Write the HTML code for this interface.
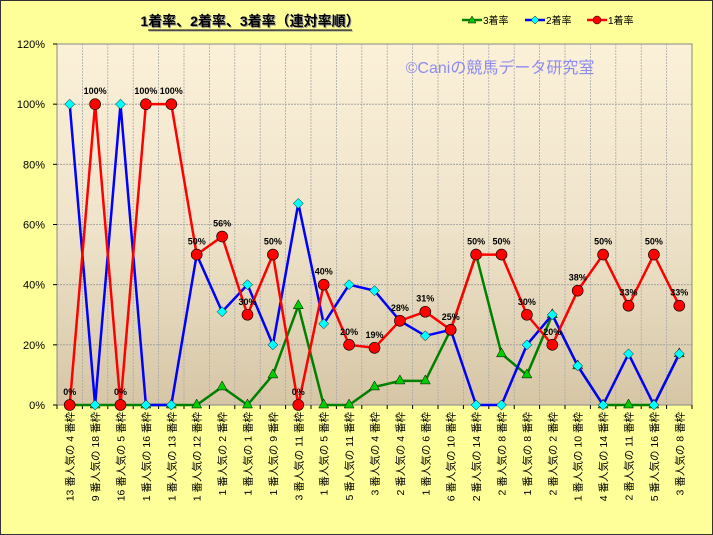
<!DOCTYPE html>
<html><head><meta charset="utf-8"><style>
html,body{margin:0;padding:0;background:#fff;}
svg{display:block;font-family:"Liberation Sans","Noto Sans CJK JP",sans-serif;}
</style></head><body>
<svg id="c" width="713" height="535" viewBox="0 0 713 535" xmlns="http://www.w3.org/2000/svg">
<defs>
<linearGradient id="bg" x1="0" y1="0" x2="0" y2="1">
<stop offset="0" stop-color="#fbf0d8"/><stop offset="0.5" stop-color="#efe4cb"/><stop offset="1" stop-color="#d6c6a6"/>
</linearGradient>
</defs>
<rect x="0.5" y="0.5" width="712" height="534" fill="#ffff99" stroke="#333" stroke-width="1"/>
<rect x="57" y="44" width="635" height="361" fill="url(#bg)" stroke="#888" stroke-width="1"/>
<g id="grid"></g>
<text x="250" y="26" text-anchor="middle" font-size="14" font-weight="bold" fill="#999" transform="translate(1,1)">1着率、2着率、3着率（連対率順）</text>
<text x="250" y="26" text-anchor="middle" font-size="14" font-weight="bold" fill="#000">1着率、2着率、3着率（連対率順）</text>
<line x1="148" y1="30" x2="352" y2="30" stroke="#000" stroke-width="1"/>
<line x1="149" y1="31" x2="353" y2="31" stroke="#999" stroke-width="1"/>
<text x="500" y="73" text-anchor="middle" font-size="16" fill="#8c8cf0">©Caniの競馬データ研究室</text>
<g font-size="10">
<line x1="462" y1="20" x2="482" y2="20" stroke="#008000" stroke-width="2.5"/><polygon points="472,16 476,23 468,23" fill="#00cc00" stroke="#000" stroke-width="0.5"/><text x="483" y="24">3着率</text>
<line x1="525" y1="20" x2="545" y2="20" stroke="#0000ff" stroke-width="2.5"/><polygon points="535,16 539,20 535,24 531,20" fill="#00ffff" stroke="#000" stroke-width="0.5"/><text x="546" y="24">2着率</text>
<line x1="587" y1="20" x2="607" y2="20" stroke="#ff0000" stroke-width="2.5"/><circle cx="597" cy="20" r="4" fill="#ff0000" stroke="#000" stroke-width="0.5"/><text x="608" y="24">1着率</text>
</g>
<g id="plot"></g>
</svg>
<script>
var ns="http://www.w3.org/2000/svg",svg=document.getElementById('c');
function el(t,a,p,txt){var e=document.createElementNS(ns,t);for(var k in a)e.setAttribute(k,a[k]);if(txt!=null)e.textContent=txt;(p||svg).appendChild(e);return e;}
var L=57,R=692,T=44,B=405,n=25,w=(R-L)/n;
var g=document.getElementById('grid'),p=document.getElementById('plot');
function X(i){return L+w*(i+0.5);}function Y(v){return B-(B-T)*v/120;}
for(var k=1;k<6;k++){el('line',{x1:L,x2:R,y1:Y(k*20),y2:Y(k*20),stroke:'#999','stroke-dasharray':'2,1','stroke-width':0.8},g);}
for(var i=1;i<n;i++){el('line',{x1:L+w*i,x2:L+w*i,y1:T,y2:B,stroke:'#aaa','stroke-dasharray':'2,1','stroke-width':0.8},g);}
for(var k=0;k<=6;k++){el('text',{x:45,y:Y(k*20)+4,'text-anchor':'end','font-size':11},g,(k*20)+'%');el('line',{x1:L-4,x2:L,y1:Y(k*20),y2:Y(k*20),stroke:'#000'},g);}
for(var i=0;i<=n;i++)el('line',{x1:L+w*i,x2:L+w*i,y1:B,y2:B+4,stroke:'#000'},g);
var labs=["13 番人気の 4 番枠","9 番人気の 18 番枠","16 番人気の 5 番枠","1 番人気の 16 番枠","1 番人気の 13 番枠","1 番人気の 12 番枠","1 番人気の 2 番枠","1 番人気の 1 番枠","1 番人気の 9 番枠","3 番人気の 11 番枠","1 番人気の 5 番枠","5 番人気の 11 番枠","3 番人気の 4 番枠","2 番人気の 4 番枠","1 番人気の 6 番枠","6 番人気の 10 番枠","2 番人気の 14 番枠","2 番人気の 8 番枠","1 番人気の 8 番枠","2 番人気の 2 番枠","1 番人気の 10 番枠","4 番人気の 14 番枠","2 番人気の 11 番枠","5 番人気の 16 番枠","3 番人気の 8 番枠"];
labs.forEach(function(s,i){el('text',{x:0,y:0,'font-size':10.5,'text-anchor':'end',transform:'translate('+(X(i)+4)+',412) rotate(-90)'},g,s);});
var r1=[0,100,0,100,100,50,56,30,50,0,40,20,19,28,31,25,50,50,30,20,38,50,33,50,33];
var r2=[100,0,100,0,0,50,31,40,20,67,27,40,38,28,23,25,0,0,20,30,13,0,17,0,17];
var r3=[0,0,0,0,0,0,6,0,10,33,0,0,6,8,8,25,50,17,10,30,13,0,0,0,17];
function pts(a){return a.map(function(v,i){return X(i)+','+Y(v)}).join(' ');}
el('polyline',{points:pts(r3),fill:'none',stroke:'#008000','stroke-width':2.5},p);
r3.forEach(function(v,i){var x=X(i),y=Y(v);el('polygon',{points:x+','+(y-6)+' '+(x+5)+','+(y+3)+' '+(x-5)+','+(y+3),fill:'#00cc00',stroke:'#000','stroke-width':0.5},p);});
el('polyline',{points:pts(r2),fill:'none',stroke:'#0000ff','stroke-width':2.5},p);
r2.forEach(function(v,i){var x=X(i),y=Y(v);el('polygon',{points:x+','+(y-5)+' '+(x+5)+','+y+' '+x+','+(y+5)+' '+(x-5)+','+y,fill:'#00ffff',stroke:'#000','stroke-width':0.5},p);});
el('polyline',{points:pts(r1),fill:'none',stroke:'#ff0000','stroke-width':2.5},p);
r1.forEach(function(v,i){var x=X(i),y=Y(v);el('circle',{cx:x,cy:y,r:5.5,fill:'#ff0000',stroke:'#000','stroke-width':0.6},p);
el('text',{x:x,y:y-10,'text-anchor':'middle','font-size':9,'font-weight':'bold'},p,v+'%');});
</script>
</body></html>
